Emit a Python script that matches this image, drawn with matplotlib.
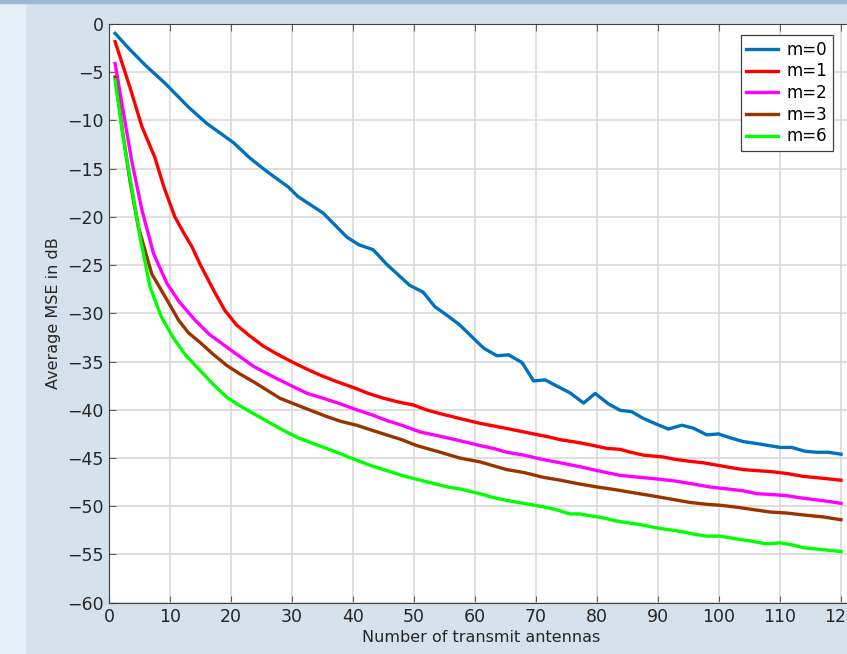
import numpy as np
from matplotlib import pyplot as plt
from matplotlib.patches import Rectangle

# antenna counts and average MSE (dB)
x_m0 = [1, 3.2, 6, 9.2, 13, 16, 20.4, 23.1, 25.9, 29.4, 31, 35.1, 39, 41, 43.3, 45.5, 49.3, 51.5, 53.4,
        55.4, 57.5, 61.4, 63.6, 65.5, 67.7, 69.6, 71.5, 73.6, 75.6, 77.8, 79.7, 81.9, 83.8, 85.7, 87.6,
        89.8, 91.7, 93.9, 95.8, 98, 99.9, 101.8, 104, 106.2, 108.1, 110, 111.9, 114.1, 116, 117.9, 120]
mse_m0 = [-0.97, -2.5, -4.3, -6.15, -8.6, -10.3, -12.3, -13.9, -15.3, -16.9, -17.9, -19.6, -22.1, -22.9,
          -23.4, -24.9, -27.1, -27.8, -29.3, -30.2, -31.2, -33.6, -34.4, -34.3, -35.1, -37.0, -36.9,
          -37.6, -38.25, -39.3, -38.3, -39.4, -40.05, -40.2, -40.9, -41.5, -42.0, -41.6, -41.9, -42.6,
          -42.5, -42.9, -43.3, -43.5, -43.7, -43.9, -43.9, -44.3, -44.4, -44.4, -44.6]

x_m1 = [1, 3.4, 5.4, 7.5, 9, 10.8, 12.2, 13.6, 15, 17.4, 19, 20.9, 23, 25.3, 27.5, 30.2, 32.5, 34.6, 37,
        40.1, 42.5, 45, 47.5, 49.9, 52, 54.3, 57.5, 60.8, 64.1, 66.5, 69.6, 72, 74, 77, 79.4, 81.6, 83.8,
        85.5, 87.6, 90.9, 92.5, 94.7, 97.5, 100.2, 102, 104, 106, 108.4, 111.1, 113.8, 117, 120]
mse_m1 = [-1.83, -6.5, -10.65, -13.8, -16.9, -20.0, -21.6, -23.1, -25.0, -27.9, -29.7, -31.2, -32.3, -33.4,
          -34.2, -35.1, -35.8, -36.4, -37.0, -37.7, -38.3, -38.8, -39.2, -39.5, -40.0, -40.4, -40.9,
          -41.4, -41.8, -42.1, -42.5, -42.8, -43.1, -43.4, -43.7, -44.0, -44.1, -44.4, -44.7, -44.9,
          -45.1, -45.3, -45.5, -45.8, -46.0, -46.2, -46.3, -46.4, -46.6, -46.9, -47.1, -47.3]

x_m2 = [1, 2.1, 3.7, 5.4, 7.3, 9.5, 11.5, 14.1, 16.5, 19.3, 21.5, 23.7, 27, 30.2, 32.5, 35.1, 38, 40.6,
        43, 45.5, 48, 51, 54, 57.5, 60.8, 63, 65.2, 68, 70.7, 74, 77.2, 80, 83.8, 87, 90.3, 93, 95.8, 98.5,
        101.3, 104, 106.2, 109, 111.1, 113, 115.5, 118, 120]
mse_m2 = [-4.1, -8.2, -14.1, -19.3, -23.8, -26.9, -28.8, -30.7, -32.2, -33.5, -34.5, -35.5, -36.6, -37.6,
          -38.3, -38.8, -39.4, -40.0, -40.5, -41.1, -41.6, -42.3, -42.7, -43.2, -43.7, -44.0, -44.4,
          -44.7, -45.1, -45.5, -45.9, -46.3, -46.8, -47.0, -47.2, -47.4, -47.7, -48.0, -48.2, -48.4,
          -48.7, -48.8, -48.9, -49.1, -49.3, -49.5, -49.7]

x_m3 = [1, 2.3, 3.5, 4.8, 7, 9.5, 11.4, 13, 14.9, 17, 19.3, 21.5, 23.7, 26, 28, 30, 32.4, 35.7, 38, 40.6,
        43, 45.5, 48, 50.4, 54.3, 57.5, 60.8, 63, 65.2, 68, 71.2, 74, 77.2, 80, 83.2, 86, 89.8, 92.5, 95.2,
        98, 100.2, 103, 105.1, 108.4, 111, 113.8, 117, 120]
mse_m3 = [-5.5, -11.5, -16.5, -21.0, -25.9, -28.6, -30.7, -32.0, -33.0, -34.2, -35.4, -36.3, -37.1, -38.0,
          -38.8, -39.3, -39.9, -40.7, -41.2, -41.6, -42.1, -42.6, -43.1, -43.7, -44.4, -45.0, -45.4,
          -45.8, -46.2, -46.5, -47.0, -47.3, -47.7, -48.0, -48.3, -48.6, -49.0, -49.3, -49.6, -49.8,
          -49.9, -50.1, -50.3, -50.6, -50.7, -50.9, -51.1, -51.4]

x_m6 = [1, 2.3, 3.7, 5.1, 6.7, 8.6, 10.5, 12.5, 14.9, 17, 19.3, 21.5, 23.7, 26.5, 29.1, 31, 33.5, 36.5,
        40.1, 43, 45.5, 48, 50.4, 53, 55.5, 57.5, 60.8, 63, 65.2, 68, 70.7, 73, 75.6, 77.2, 79, 81, 83,
        84.9, 87, 90.3, 93.6, 96, 98, 100.2, 103, 105.1, 107.8, 110, 112, 113.8, 117, 120]
mse_m6 = [-5.8, -11.7, -16.9, -22.1, -27.2, -30.4, -32.5, -34.3, -35.9, -37.3, -38.7, -39.6, -40.4, -41.4,
          -42.3, -42.9, -43.5, -44.2, -45.1, -45.8, -46.3, -46.8, -47.2, -47.6, -48.0, -48.2, -48.7,
          -49.1, -49.4, -49.7, -50.0, -50.3, -50.8, -50.8, -51.0, -51.2, -51.5, -51.7, -51.9, -52.3,
          -52.6, -52.9, -53.1, -53.1, -53.4, -53.6, -53.9, -53.8, -54.0, -54.3, -54.5, -54.7]

series = [
    (x_m0, mse_m0, 'm=0', '#0072BD'),
    (x_m1, mse_m1, 'm=1', '#FF0000'),
    (x_m2, mse_m2, 'm=2', '#FF00FF'),
    (x_m3, mse_m3, 'm=3', '#993300'),
    (x_m6, mse_m6, 'm=6', '#00FF00'),
]

plt.rcParams['font.family'] = 'DejaVu Sans'
fig = plt.figure(figsize=(8.47, 6.54), dpi=100, facecolor='#d5e1eb')
fig.patches.append(Rectangle((0, 0), 25 / 847, 1, transform=fig.transFigure, color='#e6eef6', zorder=0))
fig.patches.append(Rectangle((0, 1 - 3 / 654), 1, 3 / 654, transform=fig.transFigure, color='#9db8d4', zorder=1))

ax = fig.add_axes([109 / 847, 51.3 / 654, 744.2 / 847, 578.7 / 654])
ax.set_facecolor('white')
for xs, ys, lab, col in series:
    ax.plot(xs, ys, color=col, linewidth=2.4, label=lab)

ax.set_xlim(0, 122)
ax.set_ylim(-60, 0)
ax.set_xticks(np.arange(0, 121, 10))
ax.set_yticks(np.arange(-60, 1, 5))
ax.grid(True, color='#d6d6d6', linewidth=1.1)
ax.set_axisbelow(True)
ax.tick_params(direction='in', length=5, width=0.8, color='#606060', labelsize=12.5, labelcolor='#262626',
               top=True, right=False, pad=4)
for side in ['left', 'bottom', 'top']:
    ax.spines[side].set_color('#404040')
ax.spines['right'].set_visible(False)

ax.set_xlabel('Number of transmit antennas', fontsize=11.5, color='#262626', labelpad=3)
ax.set_ylabel('Average MSE in dB', fontsize=11.5, color='#262626', labelpad=4)

leg = ax.legend(loc='upper right', fontsize=12, fancybox=False, framealpha=1, borderaxespad=0,
                edgecolor='#404040', handlelength=1.9, handletextpad=0.5, borderpad=0.35, labelspacing=0.22)
leg.set_bbox_to_anchor((833 / 847, 1 - 35 / 654), transform=fig.transFigure)
leg.get_frame().set_linewidth(0.9)

plt.savefig('out.png', dpi=100, facecolor=fig.get_facecolor())
